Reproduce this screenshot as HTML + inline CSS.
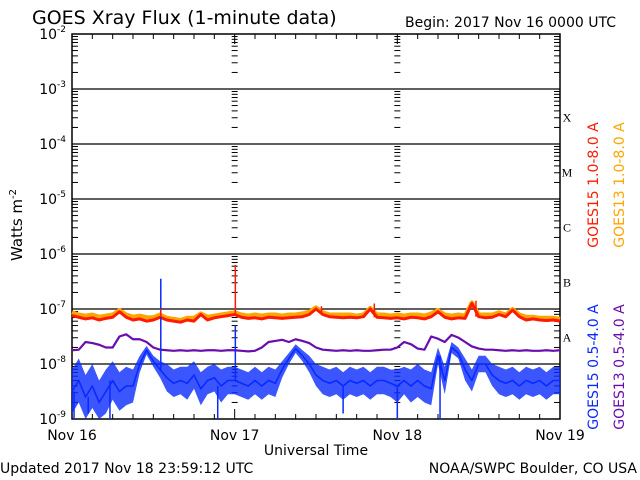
<!DOCTYPE html>
<html><head><meta charset="utf-8"><style>
body{margin:0;background:#fff;}
svg{display:block;font-family:"DejaVu Sans","Liberation Sans",sans-serif;}
</style></head><body>
<svg id="c" width="640" height="480"></svg>
<script>
// hourly log10 flux values, hours 0..72
const hours = Array.from({length:73},(_,i)=>i);
const g15Long = [-7.12,-7.15,-7.18,-7.16,-7.2,-7.17,-7.15,-7.05,-7.15,-7.2,-7.18,-7.22,-7.2,-7.15,-7.2,-7.22,-7.24,-7.2,-7.22,-7.1,-7.2,-7.16,-7.14,-7.12,-7.1,-7.15,-7.17,-7.16,-7.18,-7.15,-7.16,-7.17,-7.16,-7.15,-7.14,-7.1,-7.0,-7.1,-7.14,-7.15,-7.16,-7.15,-7.16,-7.14,-7.0,-7.15,-7.16,-7.17,-7.16,-7.18,-7.15,-7.16,-7.18,-7.14,-7.05,-7.15,-7.18,-7.16,-7.17,-6.9,-7.14,-7.16,-7.15,-7.1,-7.14,-7.02,-7.14,-7.2,-7.18,-7.2,-7.21,-7.2,-7.22];
const g13Long = [-7.06,-7.1,-7.12,-7.1,-7.14,-7.12,-7.1,-7.02,-7.1,-7.14,-7.12,-7.15,-7.15,-7.1,-7.16,-7.18,-7.2,-7.16,-7.16,-7.08,-7.14,-7.12,-7.1,-7.08,-7.06,-7.1,-7.12,-7.1,-7.12,-7.1,-7.1,-7.12,-7.1,-7.1,-7.08,-7.05,-6.97,-7.06,-7.1,-7.1,-7.1,-7.1,-7.12,-7.1,-6.98,-7.1,-7.1,-7.12,-7.1,-7.12,-7.1,-7.1,-7.12,-7.08,-7.02,-7.1,-7.12,-7.1,-7.12,-6.88,-7.1,-7.1,-7.1,-7.06,-7.1,-7.0,-7.1,-7.14,-7.14,-7.16,-7.16,-7.16,-7.18];
const g15Short = [-8.5,-8.3,-8.6,-8.4,-8.7,-8.5,-8.3,-8.5,-8.4,-8.4,-8.0,-7.75,-7.95,-8.1,-8.25,-8.35,-8.3,-8.35,-8.2,-8.45,-8.3,-8.25,-8.4,-8.3,-8.3,-8.35,-8.4,-8.3,-8.4,-8.3,-8.35,-8.1,-7.9,-7.72,-7.85,-8.0,-8.2,-8.3,-8.35,-8.3,-8.4,-8.3,-8.35,-8.3,-8.4,-8.3,-8.3,-8.35,-8.4,-8.3,-8.4,-8.3,-8.4,-8.45,-7.85,-8.3,-7.7,-7.8,-8.1,-8.3,-8.0,-8.0,-8.2,-8.3,-8.35,-8.3,-8.4,-8.3,-8.35,-8.3,-8.4,-8.3,-8.3];
const g15ShortSpread = [0.4,0.4,0.4,0.4,0.4,0.4,0.35,0.35,0.35,0.3,0.15,0.08,0.1,0.15,0.25,0.25,0.25,0.3,0.25,0.3,0.25,0.25,0.3,0.25,0.25,0.25,0.25,0.25,0.25,0.25,0.25,0.15,0.1,0.08,0.1,0.15,0.2,0.25,0.25,0.25,0.25,0.25,0.25,0.25,0.25,0.25,0.25,0.25,0.3,0.25,0.3,0.3,0.3,0.3,0.15,0.25,0.1,0.1,0.2,0.2,0.15,0.15,0.2,0.25,0.25,0.25,0.25,0.25,0.25,0.25,0.25,0.25,0.25];
const g13Short = [-7.75,-7.74,-7.6,-7.62,-7.65,-7.7,-7.7,-7.5,-7.46,-7.55,-7.55,-7.6,-7.7,-7.74,-7.75,-7.76,-7.75,-7.76,-7.75,-7.76,-7.75,-7.75,-7.76,-7.75,-7.75,-7.76,-7.77,-7.76,-7.7,-7.6,-7.58,-7.56,-7.6,-7.55,-7.58,-7.62,-7.7,-7.74,-7.75,-7.76,-7.75,-7.76,-7.75,-7.76,-7.76,-7.75,-7.74,-7.74,-7.7,-7.6,-7.64,-7.72,-7.74,-7.5,-7.54,-7.6,-7.47,-7.52,-7.6,-7.68,-7.72,-7.74,-7.74,-7.75,-7.76,-7.75,-7.76,-7.75,-7.76,-7.76,-7.75,-7.76,-7.75];
// spikes [hour, log10 value]
const redSpikes = [[13.1,-7.0],[24.1,-6.2],[36.8,-6.95],[44.6,-6.9],[59.6,-6.85]];
const blueSpikes = [[13.1,-6.45],[24.1,-7.3],[0.3,-9.0],[5.6,-9.0],[21.5,-9.0],[48,-9.0],[54.3,-9.0],[2.4,-8.9],[40,-8.9]];
const dayLabels = ["Nov 16","Nov 17","Nov 18","Nov 19"];
const yExps = [-2,-3,-4,-5,-6,-7,-8,-9];
const classes = ["X","M","C","B","A"];

const L=72,R=560,T=34,B=419;
const xs=h=>L+(R-L)*h/72;
const ys=v=>T+(B-T)*(-2-v)/7;
const yc=v=>Math.min(B,Math.max(T,ys(v)));
const svg=document.getElementById('c');
const NS='http://www.w3.org/2000/svg';
function mk(t,a,p){const e=document.createElementNS(NS,t);for(const k in a)e.setAttribute(k,a[k]);(p||svg).appendChild(e);return e;}

const fr=mk('rect',{x:L,y:T,width:R-L,height:B-T,fill:'none',stroke:'#000','stroke-width':1.5});


yExps.forEach(e=>{
  const y=ys(e);
  if(e<-2&&e>-9){const l=mk('line',{x1:L,x2:R,y1:y,y2:y,stroke:'#000','stroke-width':1.3});
    
    }
  const t=mk('text',{x:L-6,y:y+5,'text-anchor':'end','font-size':14});
  
  
  t.textContent='10';
  const s=mk('tspan',{dy:-7,'font-size':9},t);s.textContent=String(e);
  if(e>-9){for(let m=2;m<=9;m++){const yy=ys(e-1+Math.log10(m));
    [L,xs(24),xs(48),R].forEach((x,i)=>{const w=(i==0||i==3)?6:3;
      const dir=i==3?-1:1;
      mk('line',{x1:x-(i==1||i==2?w:0),x2:x+dir*w,y1:yy,y2:yy,stroke:'#000'});});}}
});
for(let h=0;h<=72;h+=3){const x=xs(h);const len=h%24==0?10:5;
  mk('line',{x1:x,x2:x,y1:B,y2:B-len,stroke:'#000'});mk('line',{x1:x,x2:x,y1:T,y2:T+len,stroke:'#000'});}
dayLabels.forEach((d,i)=>{const t=mk('text',{x:xs(i*24),y:440,'text-anchor':'middle','font-size':14});
  
  
  t.textContent=d;});
classes.forEach((c,i)=>{const t=mk('text',{x:567,y:ys(-3.5-i)+5,'text-anchor':'middle','font-size':12,'font-family':'Liberation Serif,serif'});
  
  
  t.textContent=c;});

function line(arr,color,name,w){const p=mk('polyline',{points:arr.map((v,i)=>xs(hours[i])+','+yc(v)).join(' '),fill:'none',stroke:color,'stroke-width':w,'stroke-linejoin':'round'});
  
  }
function band(arr,spread,color,name){
  const up=arr.map((v,i)=>xs(hours[i])+','+yc(v+spread[i]));
  const dn=arr.map((v,i)=>xs(hours[i])+','+yc(v-spread[i])).reverse();
  const p=mk('polygon',{points:up.concat(dn).join(' '),fill:color,'fill-opacity':0.8,stroke:'none'});
  
  }
line(g13Short,'#6a0dad','goes13-short-line',2.2);
band(g15Short,g15ShortSpread,'#0a2aff','goes15-short-noise');
line(g15Short,'#0a2aff','goes15-short-line',1.6);
line(g13Long,'#ffa500','goes13-long-line',4);
line(g15Long,'#ff1a00','goes15-long-line',3);
function spikes(arr,base,color,name){arr.forEach(s=>{const i=Math.round(s[0]);
  const l=mk('line',{x1:xs(s[0]),x2:xs(s[0]),y1:yc(base[i]),y2:yc(s[1]),stroke:color,'stroke-width':1.5});
  
  });}
spikes(blueSpikes,g15Short,'#0a2aff','goes15-short-spike');
spikes(redSpikes,g15Long,'#ff1a00','goes15-long-spike');
function txt(x,y,s,opt,name){const t=mk('text',Object.assign({x:x,y:y,'font-size':14},opt||{}));
  
  
  t.textContent=s;return t;}
txt(32,24,'GOES Xray Flux (1-minute data)',{'font-size':19},'chart-title');
txt(405,27,'Begin:  2017 Nov 16 0000 UTC',{},'begin-label');
txt(316,455,'Universal Time',{'text-anchor':'middle'},'x-axis-title');
txt(0,473,'Updated 2017 Nov 18 23:59:12 UTC',{},'updated-label');
txt(637,473,'NOAA/SWPC Boulder, CO USA',{'text-anchor':'end'},'credit-label');
const yt=txt(22,225,'Watts m',{'text-anchor':'middle',transform:'rotate(-90 22 225)','font-size':15},'y-axis-title');
mk('tspan',{dy:-6,'font-size':10},yt).textContent='-2';
txt(598,185,'GOES15 1.0-8.0 A',{'text-anchor':'middle',fill:'#ff1a00',transform:'rotate(-90 598 185)'},'legend-goes15-long');
txt(624,185,'GOES13 1.0-8.0 A',{'text-anchor':'middle',fill:'#ffa500',transform:'rotate(-90 624 185)'},'legend-goes13-long');
txt(598,367,'GOES15 0.5-4.0 A',{'text-anchor':'middle',fill:'#0a2aff',transform:'rotate(-90 598 367)'},'legend-goes15-short');
txt(624,367,'GOES13 0.5-4.0 A',{'text-anchor':'middle',fill:'#6a0dad',transform:'rotate(-90 624 367)'},'legend-goes13-short');
</script>
</body></html>
